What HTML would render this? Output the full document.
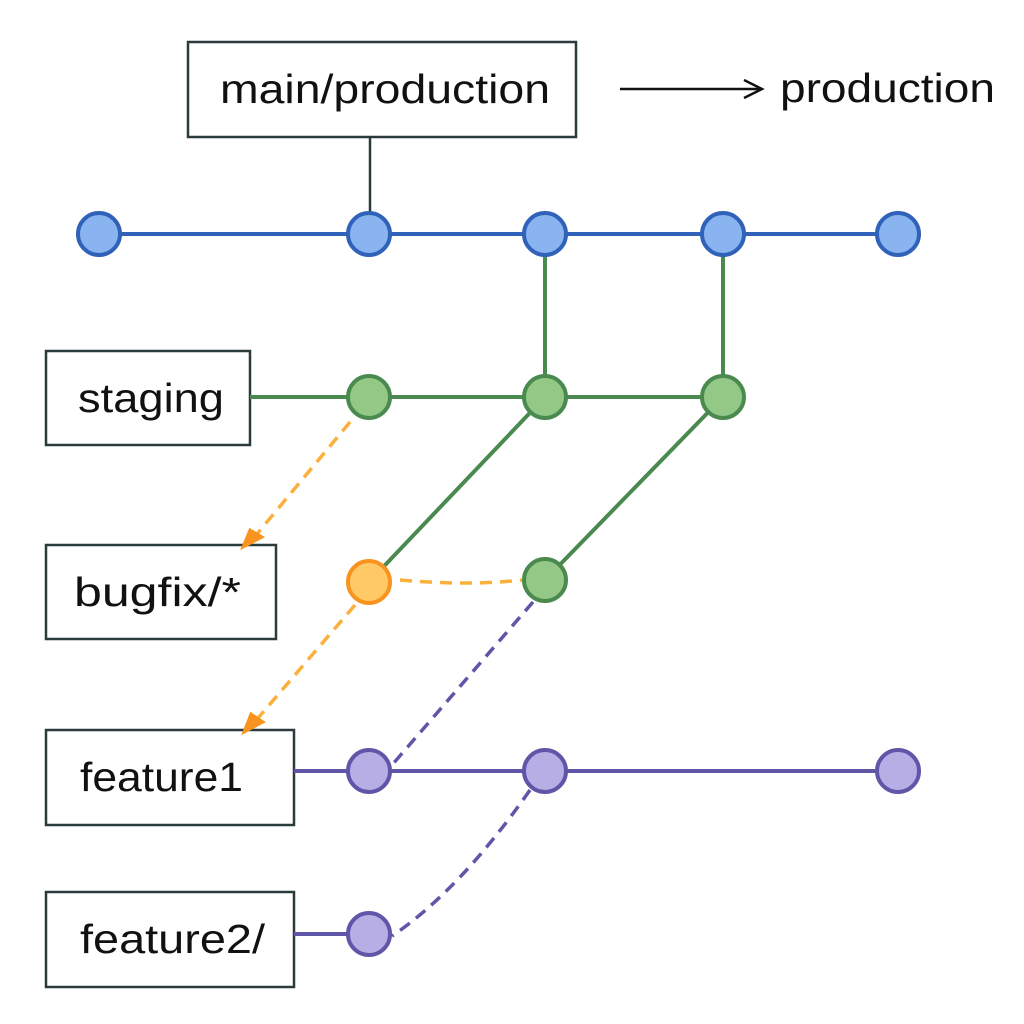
<!DOCTYPE html>
<html><head><style>body{margin:0;background:#fff}svg{display:block}</style></head><body>
<svg width="1024" height="1024" viewBox="0 0 1024 1024" font-family="Liberation Sans, sans-serif">
<rect width="1024" height="1024" fill="#fff"/>
<g fill="#fff" stroke="#2b3a3a" stroke-width="2.5">
<rect x="188" y="42" width="388" height="95"/>
<rect x="46" y="351" width="204" height="94"/>
<rect x="46" y="545" width="230" height="94"/>
<rect x="46" y="730" width="248" height="95"/>
<rect x="46" y="892" width="248" height="95"/>
</g>
<g font-size="41" fill="#111">
<text x="220" y="103" textLength="330" lengthAdjust="spacingAndGlyphs">main/production</text>
<text x="78" y="412" textLength="146" lengthAdjust="spacingAndGlyphs">staging</text>
<text x="74" y="606" textLength="167" lengthAdjust="spacingAndGlyphs">bugfix/*</text>
<text x="80" y="791" textLength="163" lengthAdjust="spacingAndGlyphs">feature1</text>
<text x="80" y="953" textLength="185" lengthAdjust="spacingAndGlyphs">feature2/</text>
<text x="780" y="102" textLength="215" lengthAdjust="spacingAndGlyphs">production</text>
</g>
<line x1="620" y1="89" x2="760" y2="89" stroke="#111" stroke-width="2.5"/>
<polyline points="744,80 762,89 744,98" fill="none" stroke="#111" stroke-width="2.5"/>
<line x1="370" y1="137" x2="370" y2="214" stroke="#2b3a3a" stroke-width="2.5"/>
<line x1="99" y1="234" x2="898" y2="234" stroke="#2f62b8" stroke-width="4"/>
<g stroke="#4a8a4f" stroke-width="4" fill="none">
<line x1="250" y1="397" x2="723" y2="397"/>
<line x1="545" y1="234" x2="545" y2="397"/>
<line x1="723" y1="234" x2="723" y2="397"/>
<line x1="545" y1="397" x2="369" y2="582"/>
<line x1="723" y1="397" x2="545" y2="580"/>
</g>
<g stroke="#fbb03b" stroke-width="3.5" stroke-dasharray="12,8" fill="none">
<line x1="350" y1="422" x2="252" y2="540"/>
<line x1="355" y1="605" x2="252" y2="725"/>
<path d="M400 580 Q470 586 522 580"/>
</g>
<polygon points="243,547 262,537 250,530" fill="#f7931e" stroke="#f7931e" stroke-width="3"/>
<polygon points="244,732 263,722 251,714" fill="#f7931e" stroke="#f7931e" stroke-width="3"/>
<g stroke="#5f56a8" stroke-width="3.5" fill="none">
<line x1="294" y1="771" x2="898" y2="771" stroke-width="4"/>
<line x1="294" y1="934" x2="369" y2="934" stroke-width="4"/>
<line x1="533" y1="602" x2="392" y2="765" stroke-dasharray="12,8"/>
<path d="M530 790 Q460 890 392 936" stroke-dasharray="12,8"/>
</g>
<g fill="#8ab4f0" stroke="#2f62b8" stroke-width="4">
<circle cx="99" cy="234" r="21"/><circle cx="369" cy="234" r="21"/><circle cx="545" cy="234" r="21"/><circle cx="723" cy="234" r="21"/><circle cx="898" cy="234" r="21"/>
</g>
<g fill="#93c887" stroke="#4a8a4f" stroke-width="4">
<circle cx="369" cy="397" r="21"/><circle cx="545" cy="397" r="21"/><circle cx="723" cy="397" r="21"/><circle cx="545" cy="580" r="21"/>
</g>
<circle cx="369" cy="582" r="21" fill="#ffc966" stroke="#f7931e" stroke-width="4"/>
<g fill="#b8aee6" stroke="#5f56a8" stroke-width="4">
<circle cx="369" cy="771" r="21"/><circle cx="545" cy="771" r="21"/><circle cx="898" cy="771" r="21"/><circle cx="369" cy="934" r="21"/>
</g>
</svg>
</body></html>
